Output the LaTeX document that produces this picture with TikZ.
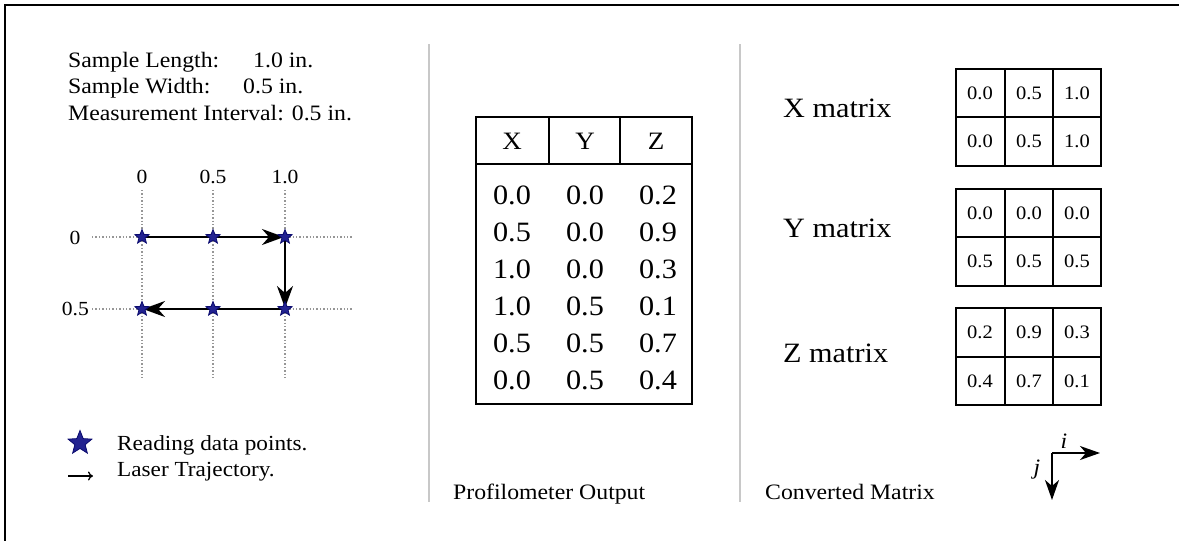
\documentclass[tikz,border=0pt]{standalone}
\usepackage{fontspec}
\setmainfont[FakeStretch=1.08]{Liberation Serif}
\usetikzlibrary{shapes.geometric,arrows.meta}
\definecolor{starblue}{RGB}{35,35,145}
\definecolor{staredge}{RGB}{10,10,110}
\definecolor{sepgray}{RGB}{200,200,200}
\definecolor{dotgray}{RGB}{150,150,150}
\begin{document}
\begin{tikzpicture}[x=1pt,y=-1pt,
  lefttext/.style={inner sep=0pt,anchor=base west,font=\fontsize{22}{26}\selectfont},
  gridlabel/.style={inner sep=0pt,font=\fontsize{20}{24}\selectfont},
  dotline/.style={dotgray,line width=1.4pt,dash pattern=on 1.4pt off 2pt},
  datapoint/.style={star,star points=5,star point ratio=2.3,minimum size=15pt,inner sep=0pt,fill=starblue,draw=staredge,line width=0.8pt},
  traj/.style={line width=1.8pt,-{Stealth[length=22pt,width=16pt,inset=7pt]}},
  legtext/.style={inner sep=0pt,anchor=west,font=\fontsize{21.5}{24}\selectfont},
  legarrow/.style={line width=1.3pt,-{To[length=5pt,width=9pt]}},
  sepline/.style={sepgray,line width=2pt},
  tbl/.style={line width=1.8pt},
  hdr/.style={inner sep=0pt,font=\fontsize{25}{28}\selectfont},
  val/.style={inner sep=0pt,font=\fontsize{28}{30}\selectfont},
  mlabel/.style={inner sep=0pt,anchor=west,font=\fontsize{28}{30}\selectfont},
  cell/.style={inner sep=0pt,font=\fontsize{19}{22}\selectfont},
  caption/.style={inner sep=0pt,anchor=base west,font=\fontsize{22}{26}\selectfont},
  axarrow/.style={line width=1.8pt,-{Stealth[length=20pt,width=14pt,inset=6pt]}},
  axlabel/.style={inner sep=0pt,font=\fontsize{22}{26}\selectfont\itshape}
]
\useasboundingbox (0,0) rectangle (1179,541);
% frame
\draw[line width=2.5pt] (5,541) -- (5,5) -- (1179,5);

% ---------- left panel ----------
\node[lefttext] (len) at (68,67) {Sample Length:};
\node[lefttext] (lenv) at (253,67) {1.0 in.};
\node[lefttext] (wid) at (68,93) {Sample Width:};
\node[lefttext] (widv) at (243,93) {0.5 in.};
\node[lefttext] (intv) at (68,120) {Measurement Interval: 0.5 in.};

\node[gridlabel] (c0) at (142,177) {0};
\node[gridlabel] (c1) at (213,177) {0.5};
\node[gridlabel] (c2) at (285,177) {1.0};
\node[gridlabel] (r0) at (75,238) {0};
\node[gridlabel,anchor=east] (r1) at (89,309) {0.5};

\draw[dotline] (92,237) -- (353,237);
\draw[dotline] (92,309) -- (353,309);
\draw[dotline] (142,190) -- (142,378);
\draw[dotline] (213,190) -- (213,378);
\draw[dotline] (285,190) -- (285,378);

\coordinate (p1) at (142,237);
\coordinate (p2) at (213,237);
\coordinate (p3) at (285,237);
\coordinate (p4) at (285,309);
\coordinate (p5) at (213,309);
\coordinate (p6) at (142,309);
\draw[traj,shorten >=1pt] (p1) -- (p3);
\draw[traj,shorten >=1pt] (p3) -- (p4);
\draw[traj,shorten >=1pt] (p4) -- (p6);
\node[datapoint] (s1) at (p1) {};
\node[datapoint] (s2) at (p2) {};
\node[datapoint] (s3) at (p3) {};
\node[datapoint] (s4) at (p4) {};
\node[datapoint] (s5) at (p5) {};
\node[datapoint] (s6) at (p6) {};

% legend
\node[datapoint,minimum size=25pt] (ls) at (80,443) {};
\node[legtext] (lt1) at (117,445) {Reading data points.};
\coordinate (la1) at (68,476);
\coordinate (la2) at (93,476);
\draw[legarrow] (la1) -- (la2);
\node[legtext] (lt2) at (117,472) {Laser Trajectory.};

% separators
\draw[sepline] (429,44) -- (429,502);
\draw[sepline] (740,44) -- (740,502);

% ---------- middle panel: table ----------
\draw[tbl] (476,117) rectangle (692,404);
\draw[tbl] (476,164) -- (692,164);
\draw[tbl] (549,117) -- (549,164);
\draw[tbl] (620,117) -- (620,164);
\node[hdr] (hx) at (512,141) {X};
\node[hdr] (hy) at (585,141) {Y};
\node[hdr] (hz) at (656,141) {Z};
\foreach \a/\b/\c [count=\r] in {0.0/0.0/0.2,0.5/0.0/0.9,1.0/0.0/0.3,1.0/0.5/0.1,0.5/0.5/0.7,0.0/0.5/0.4}{
  \pgfmathsetmacro{\yy}{195+37*(\r-1)}
  \node[val] (t\r a) at (512,\yy) {\a};
  \node[val] (t\r b) at (585,\yy) {\b};
  \node[val] (t\r c) at (658,\yy) {\c};
}
\node[caption] (po) at (453,499) {Profilometer Output};

% ---------- right panel: matrices ----------
\node[mlabel] (mx) at (783,108) {X matrix};
\node[mlabel] (my) at (783,228) {Y matrix};
\node[mlabel] (mz) at (783,353) {Z matrix};
\foreach \nm/\top/\mid/\bot/\aa/\ab/\ac/\ba/\bb/\bc in {
  x/69/117/166/0.0/0.5/1.0/0.0/0.5/1.0,
  y/189/237/286/0.0/0.0/0.0/0.5/0.5/0.5,
  z/308/357/405/0.2/0.9/0.3/0.4/0.7/0.1}{
  \draw[tbl] (956,\top) rectangle (1101,\bot);
  \draw[tbl] (956,\mid) -- (1101,\mid);
  \draw[tbl] (1005,\top) -- (1005,\bot);
  \draw[tbl] (1053,\top) -- (1053,\bot);
  \pgfmathsetmacro{\ya}{(\top+\mid)/2}
  \pgfmathsetmacro{\yb}{(\mid+\bot)/2}
  \node[cell] (\nm11) at (980,\ya) {\aa};
  \node[cell] (\nm12) at (1029,\ya) {\ab};
  \node[cell] (\nm13) at (1077,\ya) {\ac};
  \node[cell] (\nm21) at (980,\yb) {\ba};
  \node[cell] (\nm22) at (1029,\yb) {\bb};
  \node[cell] (\nm23) at (1077,\yb) {\bc};
}
\node[caption] (cm) at (765,499) {Converted Matrix};

% i-j axes
\coordinate (ax0) at (1052,453);
\coordinate (axi) at (1100,453);
\coordinate (axj) at (1052,500);
\draw[axarrow] (ax0) -- (axi);
\draw[axarrow] (ax0) -- (axj);
\node[axlabel] (il) at (1064,441) {i};
\node[axlabel] (jl) at (1037,470) {j};
\end{tikzpicture}
\end{document}
